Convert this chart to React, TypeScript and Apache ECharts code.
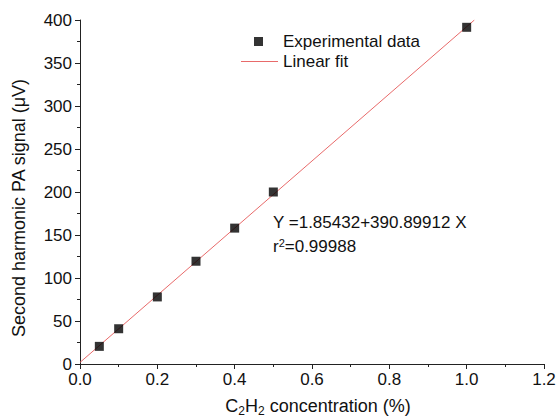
import React, { useEffect, useRef } from "react";
import * as echarts from "echarts";

const concentration = [0.05, 0.1, 0.2, 0.3, 0.4, 0.5, 1.0];
const signal = [20.5, 41, 78, 119.5, 158, 200, 391.5];
const fitX = [0, 1.02];
const fitY = [1.85, 400];
const xTicks = ["0.0", "0.2", "0.4", "0.6", "0.8", "1.0", "1.2"];
const legendNames = ["Experimental data", "Linear fit"];
const equationText = "Y =1.85432+390.89912 X";
const r2Text = "0.99988";

const FONT = "'Liberation Sans', Arial, sans-serif";
const RED = "#e86a6a";

export default function App() {
  const ref = useRef<HTMLDivElement>(null);
  useEffect(() => {
    if (!ref.current) return;
    const chart = echarts.init(ref.current, undefined, { renderer: "svg" });
    chart.setOption({
      animation: false,
      backgroundColor: "#ffffff",
      textStyle: { fontFamily: FONT },
      grid: { left: 80, right: 14, top: 20, bottom: 56, containLabel: false, outerBoundsMode: "none" },
      legend: [
        {
          orient: "vertical",
          left: 254,
          top: 33,
          padding: 0,
          itemWidth: 9,
          itemHeight: 9,
          textStyle: { fontFamily: FONT, fontSize: 17, color: "#111", padding: [0, 0, 0, 15] },
          data: [{ name: legendNames[0], icon: "rect" }],
        },
        {
          orient: "vertical",
          left: 241,
          top: 53,
          padding: 0,
          itemWidth: 37,
          itemHeight: 1,
          textStyle: { fontFamily: FONT, fontSize: 17, color: "#111" },
          data: [{ name: legendNames[1], icon: "rect", itemStyle: { color: RED } }],
        },
      ],
      xAxis: {
        type: "value",
        min: 0,
        max: 1.2,
        interval: 0.2,
        name: "C{s|2}H{s|2} concentration (%)",
        nameLocation: "middle",
        nameGap: 31,
        nameTextStyle: {
          fontFamily: FONT,
          fontSize: 18,
          color: "#111",
          padding: [0, 0, 0, 12],
          rich: {
            s: { fontFamily: FONT, fontSize: 12, color: "#111", padding: [10, 0, 0, 0] },
          },
        },
        axisLine: { lineStyle: { color: "#222", width: 1 } },
        axisTick: { show: true, length: 5, lineStyle: { color: "#222" } },
        minorTick: { show: true, splitNumber: 2, length: 3, lineStyle: { color: "#222" } },
        splitLine: { show: false },
        axisLabel: {
          fontFamily: FONT,
          fontSize: 17,
          color: "#111",
          margin: 7,
          formatter: (v: number) => xTicks[Math.round(v / 0.2)] ?? v.toFixed(1),
        },
      },
      yAxis: {
        type: "value",
        min: 0,
        max: 400,
        interval: 50,
        name: "Second harmonic PA signal (μV)",
        nameLocation: "middle",
        nameGap: 52,
        nameRotate: 90,
        nameTextStyle: { fontFamily: FONT, fontSize: 18, color: "#111", padding: [0, 32, 0, 0] },
        axisLine: { show: true, lineStyle: { color: "#222", width: 1 } },
        axisTick: { show: true, length: 5, lineStyle: { color: "#222" } },
        minorTick: { show: true, splitNumber: 2, length: 3, lineStyle: { color: "#222" } },
        splitLine: { show: false },
        axisLabel: { fontFamily: FONT, fontSize: 17, color: "#111", margin: 8 },
      },
      series: [
        {
          name: legendNames[1],
          type: "line",
          data: fitX.map((x, i) => [x, fitY[i]]),
          symbol: "none",
          lineStyle: { color: RED, width: 1 },
          itemStyle: { color: RED },
          z: 2,
        },
        {
          name: legendNames[0],
          type: "scatter",
          data: concentration.map((x, i) => [x, signal[i]]),
          symbol: "rect",
          symbolSize: 9,
          itemStyle: { color: "#000" },
          z: 3,
        },
      ],
      graphic: [
        {
          type: "text",
          left: 273,
          top: 214,
          style: { text: equationText, fontFamily: FONT, fontSize: 17, fill: "#111" },
        },
        {
          type: "text",
          left: 273,
          top: 237,
          style: {
            text: "r{p|2}=" + r2Text,
            fontFamily: FONT,
            fontSize: 17,
            fill: "#111",
            rich: {
              p: { fontFamily: FONT, fontSize: 11, fill: "#111", padding: [0, 0, 8, 0] },
            },
          },
        },
      ],
    });
    return () => chart.dispose();
  }, []);
  return <div ref={ref} style={{ width: 558, height: 420, position: "absolute", left: 0, top: 0 }} />;
}
